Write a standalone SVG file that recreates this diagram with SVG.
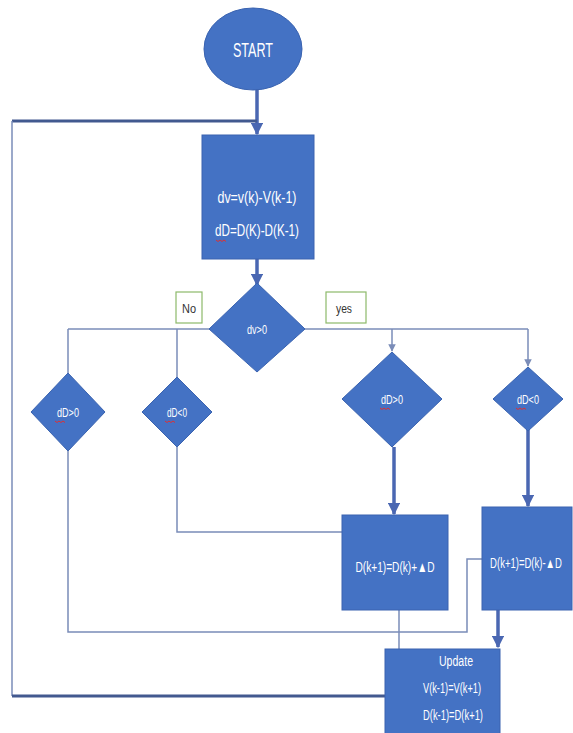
<svg xmlns="http://www.w3.org/2000/svg" width="573" height="733" viewBox="0 0 573 733">
<defs>
<style>
.n{fill:#4472C4;stroke:#3A63B0;stroke-width:1}
.t{fill:#fff;font-family:"Liberation Sans Narrow","Liberation Sans",sans-serif;text-anchor:middle}
.thin{fill:none;stroke:#7A8CB8;stroke-width:1.5}
.thick{fill:none;stroke:#4A67B2;stroke-width:3.5}
.dark{fill:none;stroke:#42598F;stroke-width:3}
.lab{fill:#fff;stroke:#8DBA6A;stroke-width:1.2}
.lt{fill:#333;font-family:"Liberation Sans Narrow","Liberation Sans",sans-serif;text-anchor:middle;font-size:13px}
.sq{fill:none;stroke:#E03030;stroke-width:1}
</style>
<marker id="ah" viewBox="0 0 10 10" refX="9" refY="5" markerWidth="3.5" markerHeight="3.5" orient="auto"><path d="M0,0L10,5L0,10z" fill="#4A67B2"/></marker>
<marker id="as" viewBox="0 0 10 10" refX="9" refY="5" markerWidth="5" markerHeight="5" orient="auto"><path d="M0,0L10,5L0,10z" fill="#7A8CB8"/></marker>
</defs>
<rect width="573" height="733" fill="#fff"/>
<g id="connectors">
<path class="thick" d="M257,88V134" marker-end="url(#ah)"/>
<path class="dark" d="M12,121H257"/>
<path class="thin" d="M12,121V696"/>
<path class="dark" d="M12,696H385"/>
<path class="thick" d="M257,259V285" marker-end="url(#ah)"/>
<path class="thin" d="M68,329H210"/>
<path class="thin" d="M305,329H528"/>
<path class="thin" d="M68,329V373"/>
<path class="thin" d="M177,329V378"/>
<path class="thin" d="M392,329V351" marker-end="url(#as)"/>
<path class="thin" d="M528,329V366" marker-end="url(#as)"/>
<path class="thin" d="M68,451V632H467V559H483"/>
<path class="thin" d="M177,447V532H342"/>
<path class="thick" d="M394,447V514" marker-end="url(#ah)"/>
<path class="thick" d="M528,429V506" marker-end="url(#ah)"/>
<path class="thin" d="M399,610V649"/>
<path class="thick" d="M498,610V647" marker-end="url(#ah)"/>
</g>
<g id="start">
<ellipse class="n" cx="253" cy="49" rx="49" ry="41"/>
<text class="t" x="253" y="57" font-size="20" textLength="40" lengthAdjust="spacingAndGlyphs">START</text>
</g>
<g id="calc">
<rect class="n" x="202" y="135" width="112" height="124"/>
<text class="t" x="257" y="203" font-size="16" textLength="79" lengthAdjust="spacingAndGlyphs">dv=v(k)-V(k-1)</text>
<text class="t" x="257" y="236" font-size="16" textLength="84" lengthAdjust="spacingAndGlyphs">dD=D(K)-D(K-1)</text>
<path class="sq" d="M216,240l2,1.5l2,-1.5l2,1.5l2,-1.5l2,1.5"/>
</g>
<g id="dv">
<polygon class="n" points="257,283 305,329 257,372 209,329"/>
<text class="t" x="257" y="334" font-size="13" textLength="20" lengthAdjust="spacingAndGlyphs">dv&gt;0</text>
</g>
<g id="label-no">
<rect class="lab" x="176" y="292" width="26" height="31"/>
<text class="lt" x="189" y="313" textLength="14" lengthAdjust="spacingAndGlyphs">No</text>
</g>
<g id="label-yes">
<rect class="lab" x="326" y="292" width="40" height="31"/>
<text class="lt" x="344" y="313" textLength="16" lengthAdjust="spacingAndGlyphs">yes</text>
</g>
<g id="d1">
<polygon class="n" points="68,373 105,412 68,451 31,412"/>
<text class="t" x="68" y="417" font-size="13" textLength="22" lengthAdjust="spacingAndGlyphs">dD&gt;0</text>
<path class="sq" d="M55,421l2,1.5l2,-1.5l2,1.5l2,-1.5l2,1.5"/>
</g>
<g id="d2">
<polygon class="n" points="177,377 212,412 177,447 142,412"/>
<text class="t" x="177" y="417" font-size="13" textLength="20" lengthAdjust="spacingAndGlyphs">dD&lt;0</text>
<path class="sq" d="M165,421l2,1.5l2,-1.5l2,1.5l2,-1.5l2,1.5"/>
</g>
<g id="d3">
<polygon class="n" points="392,352 442,399 392,447 342,399"/>
<text class="t" x="392" y="404" font-size="13" textLength="22" lengthAdjust="spacingAndGlyphs">dD&gt;0</text>
<path class="sq" d="M380,408l2,1.5l2,-1.5l2,1.5l2,-1.5l2,1.5"/>
</g>
<g id="d4">
<polygon class="n" points="528,367 563,399 528,431 493,399"/>
<text class="t" x="528" y="404" font-size="13" textLength="22" lengthAdjust="spacingAndGlyphs">dD&lt;0</text>
<path class="sq" d="M516,408l2,1.5l2,-1.5l2,1.5l2,-1.5l2,1.5"/>
</g>
<g id="inc">
<rect class="n" x="342" y="515" width="106" height="95"/>
<text class="t" x="395" y="572" font-size="15" textLength="79" lengthAdjust="spacingAndGlyphs">D(k+1)=D(k)+▲D</text>
</g>
<g id="dec">
<rect class="n" x="482" y="507" width="90" height="103"/>
<text class="t" transform="translate(526,568) scale(0.68,1)" x="0" y="0" font-size="14">D(k+1)=D(k)-▲D</text>
</g>
<g id="update">
<rect class="n" x="385" y="649" width="115" height="90"/>
<text class="t" x="456" y="666" font-size="14" textLength="34" lengthAdjust="spacingAndGlyphs">Update</text>
<text class="t" x="452" y="693" font-size="15" textLength="58" lengthAdjust="spacingAndGlyphs">V(k-1)=V(k+1)</text>
<text class="t" x="453" y="720" font-size="15" textLength="60" lengthAdjust="spacingAndGlyphs">D(k-1)=D(k+1)</text>
</g>
</svg>
